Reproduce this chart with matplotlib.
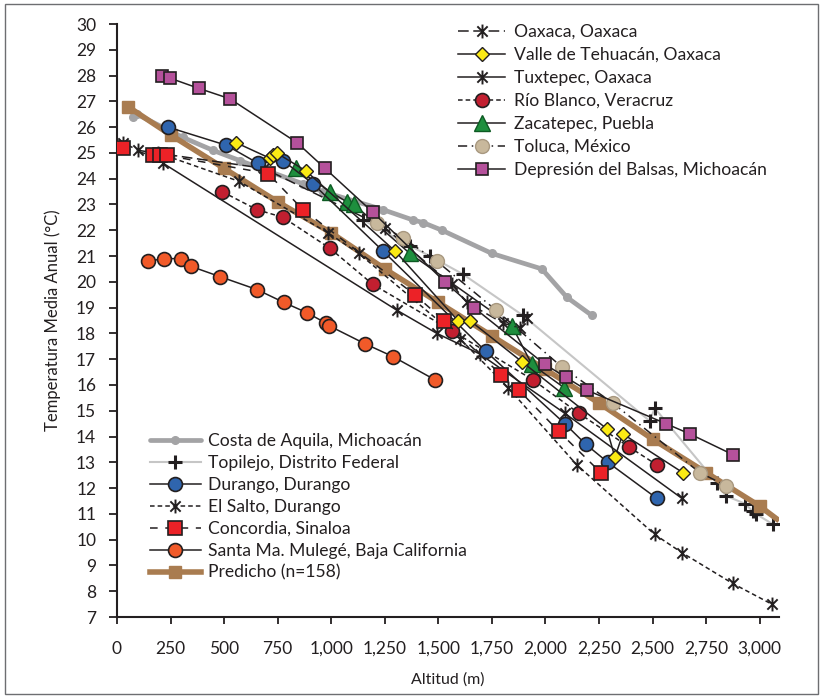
import matplotlib
matplotlib.use("Agg")
import matplotlib.pyplot as plt
from matplotlib.path import Path
from matplotlib.patches import Rectangle

plt.rcParams['font.family'] = ['Lato', 'DejaVu Sans']

# Altitud (m) / Temperatura media anual (°C)
oaxaca_x = [28, 98, 686, 1250, 1563, 1633, 1801, 1880, 1913]
oaxaca_y = [25.4, 25.1, 24.4, 22.1, 19.9, 19.2, 18.4, 18.2, 18.6]

valle_x = [555, 712, 728, 745, 882, 1297, 1591, 1647, 1890, 2286, 2324, 2361, 2641]
valle_y = [25.4, 24.8, 24.9, 25.0, 24.3, 21.2, 18.5, 18.5, 16.9, 14.3, 13.2, 14.1, 12.6]

tuxtepec_x = [215, 1306, 1493, 1694, 2090, 2637]
tuxtepec_y = [24.6, 18.9, 18.0, 17.2, 14.9, 11.6]

rio_x = [490, 653, 775, 994, 1194, 1563, 1941, 2156, 2389, 2520]
rio_y = [23.5, 22.8, 22.5, 21.3, 19.9, 18.1, 16.2, 14.9, 13.6, 12.9]

zacatepec_x = [835, 994, 1073, 1106, 1367, 1843, 1936, 2086]
zacatepec_y = [24.4, 23.5, 23.1, 23.0, 21.1, 18.3, 16.8, 15.9]

toluca_x = [1213, 1334, 1493, 1769, 2076, 2314, 2720, 2842]
toluca_y = [22.3, 21.7, 20.8, 18.9, 16.7, 15.3, 12.6, 12.1]

balsas_x = [210, 247, 383, 527, 840, 971, 1194, 1530, 1666, 1997, 2095, 2193, 2562, 2674, 2874]
balsas_y = [28.0, 27.9, 27.5, 27.1, 25.4, 24.4, 22.7, 20.0, 19.0, 16.8, 16.3, 15.8, 14.5, 14.1, 13.3]

costa_x = [75, 93, 308, 448, 574, 868, 961, 1241, 1381, 1428, 1517, 1750, 1983, 2100, 2216]
costa_y = [26.4, 26.5, 25.6, 25.1, 24.7, 23.8, 23.5, 22.8, 22.4, 22.3, 22.0, 21.1, 20.5, 19.4, 18.7]

topilejo_x = [1148, 1367, 1460, 1614, 1894, 2487, 2510, 2800, 2842, 2930, 2968, 2982, 3061]
topilejo_y = [22.4, 21.4, 21.0, 20.3, 18.7, 14.6, 15.1, 12.2, 11.7, 11.4, 11.1, 11.0, 10.6]

durango_x = [238, 509, 658, 775, 915, 1241, 1722, 2090, 2188, 2291, 2520]
durango_y = [26.0, 25.3, 24.6, 24.7, 23.8, 21.2, 17.3, 14.5, 13.7, 13.0, 11.6]

salto_x = [191, 569, 985, 1129, 1600, 1825, 2146, 2510, 2636, 2874, 3056]
salto_y = [25.0, 23.9, 21.9, 21.1, 17.8, 15.9, 12.9, 10.2, 9.5, 8.3, 7.5]

concordia_x = [28, 167, 200, 233, 705, 868, 1390, 1526, 1792, 1876, 2062, 2258]
concordia_y = [25.2, 24.9, 24.9, 24.9, 24.2, 22.8, 19.5, 18.5, 16.4, 15.8, 14.2, 12.6]

mulege_x = [145, 219, 299, 345, 481, 653, 779, 887, 975, 989, 1157, 1288, 1484]
mulege_y = [20.8, 20.9, 20.9, 20.6, 20.2, 19.7, 19.2, 18.8, 18.4, 18.3, 17.6, 17.1, 16.2]

pred_x = [50, 250, 500, 750, 1000, 1250, 1500, 1750, 2000, 2250, 2500, 2750, 3000, 3080]
pred_y = [26.8, 25.7, 24.4, 23.1, 21.9, 20.5, 19.2, 17.9, 16.6, 15.3, 13.9, 12.6, 11.3, 10.8]

x_ticks = list(range(0, 3001, 250))
x_tick_labels = ['0', '250', '500', '750', '1,000', '1,250', '1,500', '1,750',
                 '2,000', '2,250', '2,500', '2,750', '3,000']
y_ticks = list(range(7, 31))

# Excel-like asterisk marker (X with a vertical bar)
star = Path([(-1, -1), (1, 1), (-1, 1), (1, -1), (0, -1.35), (0, 1.35)],
            [Path.MOVETO, Path.LINETO] * 3)

fig = plt.figure(figsize=(8.24, 6.98), dpi=100)
ax = fig.add_axes([117 / 824, 1 - 617 / 698, (779 - 117) / 824, (617 - 24) / 698])

edge = '#231f20'

# background-ish lines first
h_costa, = ax.plot(costa_x, costa_y, color='#a3a3a5', lw=3.4, marker='o', ms=5.5,
                   mfc='#a3a3a5', mec='#a3a3a5', zorder=2, solid_capstyle='round',
                   label='Costa de Aquila, Michoacán')
h_topi, = ax.plot(topilejo_x, topilejo_y, color='#c6c6c6', lw=1.5, marker='+', ms=10,
                  mec=edge, mew=2.2, zorder=3, label='Topilejo, Distrito Federal')
h_pred, = ax.plot(pred_x, pred_y, color='#a97c50', lw=4, marker='s', ms=9,
                  mfc='#a97c50', mec='#a97c50', markevery=list(range(13)), zorder=3,
                  label='Predicho (n=158)')

h_oax, = ax.plot(oaxaca_x, oaxaca_y, color=edge, lw=1.1, ls=(0, (7, 3)), marker=star,
                 ms=10, mec=edge, mew=1.4, zorder=4, label='Oaxaca, Oaxaca')
h_valle, = ax.plot(valle_x, valle_y, color=edge, lw=1.1, marker='D', ms=7,
                   mfc='#fbea14', mec=edge, mew=1.0, zorder=6,
                   label='Valle de Tehuacán, Oaxaca')
h_tux, = ax.plot(tuxtepec_x, tuxtepec_y, color=edge, lw=1.1, marker=star, ms=10,
                 mec=edge, mew=1.4, zorder=4, label='Tuxtepec, Oaxaca')
h_rio, = ax.plot(rio_x, rio_y, color=edge, lw=1.1, ls=(0, (3, 2)), marker='o', ms=10,
                 mfc='#c21f30', mec=edge, mew=1.2, zorder=5,
                 label='Río Blanco, Veracruz')
h_zac, = ax.plot(zacatepec_x, zacatepec_y, color=edge, lw=1.1, marker='^', ms=11,
                 mfc='#1e8f3e', mec='#0d5a23', mew=1.0, zorder=5,
                 label='Zacatepec, Puebla')
h_tol, = ax.plot(toluca_x, toluca_y, color=edge, lw=1.1, ls=(0, (6, 3, 1, 3)),
                 marker='o', ms=10, mfc='#c8b89c', mec='#a89880', mew=1.0, zorder=5,
                 label='Toluca, México')
h_bal, = ax.plot(balsas_x, balsas_y, color=edge, lw=1.1, marker='s', ms=8,
                 mfc='#b5519b', mec=edge, mew=1.2, zorder=5,
                 label='Depresión del Balsas, Michoacán')
h_dur, = ax.plot(durango_x, durango_y, color=edge, lw=1.1, marker='o', ms=10,
                 mfc='#2f65ae', mec=edge, mew=1.2, zorder=5, label='Durango, Durango')
h_salto, = ax.plot(salto_x, salto_y, color=edge, lw=1.1, ls=(0, (3, 2)), marker=star,
                   ms=10, mec=edge, mew=1.4, zorder=4, label='El Salto, Durango')
h_conc, = ax.plot(concordia_x, concordia_y, color=edge, lw=1.1, ls=(0, (5, 5)),
                  marker='s', ms=10, mfc='#ec2227', mec=edge, mew=1.2, zorder=5,
                  label='Concordia, Sinaloa')
h_mul, = ax.plot(mulege_x, mulege_y, color=edge, lw=1.1, marker='o', ms=10,
                 mfc='#f15a29', mec=edge, mew=1.2, zorder=5,
                 label='Santa Ma. Mulegé, Baja California')

ax.set_xlim(0, 3090)
ax.set_ylim(7, 30)
ax.set_xticks(x_ticks)
ax.set_xticklabels(x_tick_labels)
ax.set_yticks(y_ticks)
for s in ['top', 'right']:
    ax.spines[s].set_visible(False)
for s in ['left', 'bottom']:
    ax.spines[s].set_linewidth(1.5)
    ax.spines[s].set_color(edge)
ax.tick_params(axis='x', direction='out', length=5, width=1.3, pad=12,
               labelsize=12.5, colors=edge)
ax.tick_params(axis='y', direction='out', length=6, width=1.3, pad=9,
               labelsize=12.5, colors=edge)
ax.set_xlabel('Altitud (m)', fontsize=11.5, color=edge, labelpad=11)
ax.set_ylabel('Temperatura Media Anual (°C)', fontsize=12, color=edge, labelpad=11)

leg1 = ax.legend(handles=[h_oax, h_valle, h_tux, h_rio, h_zac, h_tol, h_bal],
                 loc='upper left', bbox_to_anchor=(458 / 824, 1 - 24 / 698),
                 bbox_transform=fig.transFigure, frameon=False, fontsize=12.6,
                 handlelength=2.7, handletextpad=0.5, labelspacing=0.4,
                 borderpad=0, borderaxespad=0)
for t in leg1.get_texts():
    t.set_color(edge)
ax.add_artist(leg1)
leg2 = ax.legend(handles=[h_costa, h_topi, h_dur, h_salto, h_conc, h_mul, h_pred],
                 loc='upper left', bbox_to_anchor=(150 / 824, 1 - 433 / 698),
                 bbox_transform=fig.transFigure, frameon=False, fontsize=12.6,
                 handlelength=2.9, handletextpad=0.4, labelspacing=0.34,
                 borderpad=0, borderaxespad=0)
for t in leg2.get_texts():
    t.set_color(edge)

# thin frame round the whole figure
fig.patches.append(Rectangle((5 / 824, 4 / 698), 813 / 824, 690 / 698,
                             transform=fig.transFigure, fill=False,
                             edgecolor='#6d6e71', lw=1.0))

fig.savefig('out.png', dpi=100)
